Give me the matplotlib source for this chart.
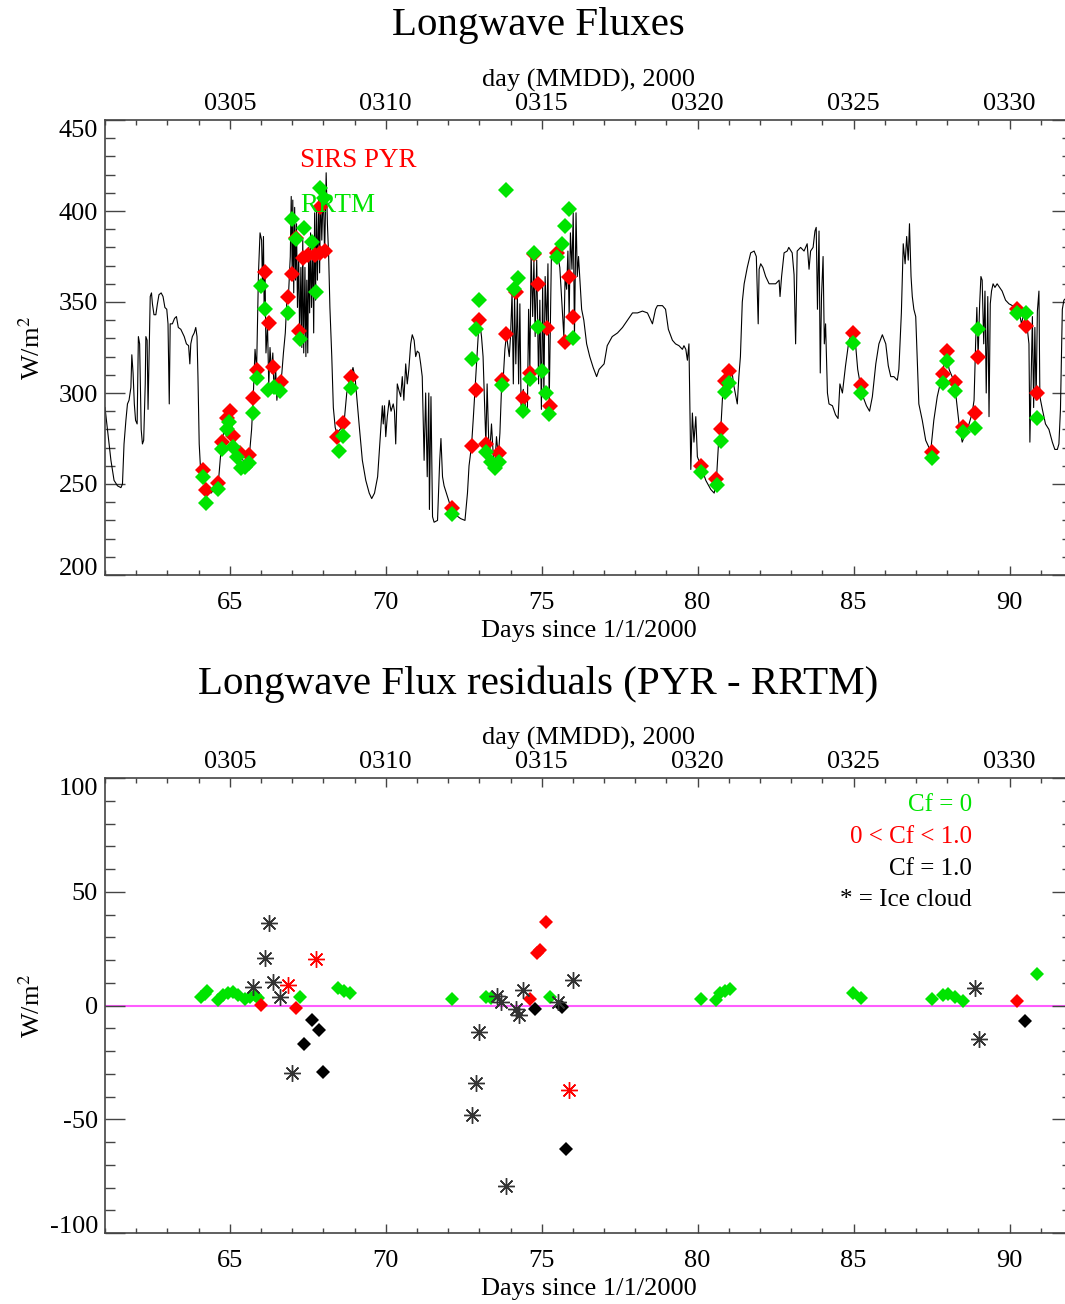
import numpy as np
import matplotlib
matplotlib.use("Agg")
import matplotlib.pyplot as plt
from matplotlib.ticker import MultipleLocator

plt.rcParams['font.family'] = ['Liberation Serif', 'DejaVu Serif']
plt.rcParams['mathtext.fontset'] = 'stix'
plt.rcParams['axes.unicode_minus'] = False

# continuous SIRS PYR longwave flux
pyr_day = [
    61.00, 61.08, 61.19, 61.29, 61.40, 61.51, 61.56, 61.61, 61.67, 61.72, 61.77, 61.83, 61.86, 61.90,
    61.94, 61.98, 62.03, 62.07, 62.11, 62.16, 62.20, 62.24, 62.29, 62.31, 62.35, 62.38, 62.42, 62.45,
    62.49, 62.52, 62.57, 62.63, 62.68, 62.73, 62.80, 62.86, 62.92, 62.98, 63.02, 63.06, 63.09, 63.16,
    63.23, 63.29, 63.35, 63.43, 63.54, 63.61, 63.68, 63.72, 63.75, 63.80, 63.86, 63.91, 63.95, 63.98,
    64.02, 64.06, 64.13, 64.24, 64.40, 64.55, 64.63, 64.74, 64.90, 65.01, 65.11, 65.22, 65.33, 65.45,
    65.55, 65.63, 65.70, 65.75, 65.81, 65.86, 65.92, 65.97, 66.02, 66.05, 66.08, 66.10, 66.13, 66.16,
    66.21, 66.25, 66.29, 66.34, 66.38, 66.42, 66.47, 66.51, 66.56, 66.62, 66.67, 66.72, 66.78, 66.83,
    66.88, 66.94, 66.97, 67.00, 67.02, 67.05, 67.08, 67.11, 67.14, 67.17, 67.21, 67.24, 67.28, 67.31,
    67.34, 67.37, 67.41, 67.44, 67.47, 67.50, 67.53, 67.56, 67.59, 67.62, 67.66, 67.69, 67.72, 67.75,
    67.78, 67.81, 67.85, 67.88, 67.91, 67.95, 68.00, 68.04, 68.09, 68.13, 68.17, 68.21, 68.27, 68.32,
    68.38, 68.43, 68.48, 68.59, 68.66, 68.75, 68.84, 68.95, 69.02, 69.15, 69.25, 69.36, 69.47, 69.55,
    69.64, 69.74, 69.81, 69.89, 69.92, 69.96, 70.00, 70.05, 70.11, 70.17, 70.24, 70.28, 70.32, 70.37,
    70.43, 70.48, 70.53, 70.58, 70.64, 70.69, 70.74, 70.80, 70.85, 70.91, 70.96, 71.01, 71.07, 71.12,
    71.17, 71.23, 71.28, 71.33, 71.38, 71.40, 71.45, 71.50, 71.55, 71.66, 71.73, 71.77, 71.82, 71.87,
    71.98, 72.09, 72.24, 72.40, 72.54, 72.62, 72.67, 72.75, 72.81, 72.86, 72.91, 72.97, 73.02, 73.07,
    73.12, 73.18, 73.21, 73.25, 73.30, 73.34, 73.39, 73.45, 73.50, 73.55, 73.61, 73.66, 73.71, 73.77,
    73.82, 73.87, 73.96, 74.00, 74.05, 74.09, 74.13, 74.17, 74.22, 74.26, 74.30, 74.34, 74.41, 74.49,
    74.54, 74.58, 74.62, 74.66, 74.71, 74.75, 74.79, 74.84, 74.90, 74.94, 74.99, 75.03, 75.07, 75.11,
    75.16, 75.20, 75.24, 75.31, 75.37, 75.42, 75.50, 75.58, 75.71, 75.75, 75.80, 75.84, 75.88, 75.92,
    75.97, 76.01, 76.05, 76.10, 76.14, 76.18, 76.23, 76.28, 76.35, 76.44, 76.54, 76.65, 76.76, 76.84,
    77.00, 77.10, 77.26, 77.43, 77.59, 77.75, 77.91, 78.07, 78.23, 78.39, 78.55, 78.65, 78.71, 78.87,
    78.97, 79.06, 79.19, 79.29, 79.40, 79.51, 79.56, 79.62, 79.67, 79.72, 79.78, 79.83, 79.88, 79.94,
    79.99, 80.10, 80.26, 80.42, 80.53, 80.60, 80.67, 80.74, 80.81, 80.90, 81.00, 81.09, 81.16, 81.27,
    81.32, 81.37, 81.43, 81.49, 81.59, 81.70, 81.81, 81.88, 81.94, 81.97, 82.02, 82.09, 82.18, 82.29,
    82.39, 82.50, 82.61, 82.64, 82.69, 82.77, 82.87, 82.92, 83.03, 83.09, 83.14, 83.19, 83.30, 83.41,
    83.51, 83.57, 83.62, 83.70, 83.76, 83.80, 83.84, 83.89, 83.93, 83.97, 84.02, 84.06, 84.10, 84.16,
    84.21, 84.32, 84.42, 84.50, 84.56, 84.64, 84.74, 84.85, 84.96, 85.06, 85.13, 85.22, 85.30, 85.41,
    85.51, 85.60, 85.71, 85.81, 85.92, 86.03, 86.11, 86.19, 86.29, 86.40, 86.45, 86.53, 86.59, 86.65,
    86.70, 86.75, 86.79, 86.84, 86.88, 86.93, 86.99, 87.09, 87.20, 87.31, 87.47, 87.57, 87.68, 87.84,
    87.97, 88.06, 88.23, 88.38, 88.48, 88.59, 88.70, 88.80, 88.86, 88.91, 88.95, 88.99, 89.04, 89.08,
    89.12, 89.17, 89.21, 89.25, 89.30, 89.34, 89.38, 89.42, 89.47, 89.53, 89.60, 89.76, 89.87, 89.98,
    90.09, 90.21, 90.30, 90.38, 90.46, 90.51, 90.57, 90.62, 90.65, 90.69, 90.73, 90.77, 90.81, 90.85,
    90.89, 90.94, 90.97, 91.05, 91.15, 91.26, 91.37, 91.45, 91.53, 91.58, 91.63, 91.69, 91.74, 91.80,
]
pyr_flux = [
    292, 280, 263, 252, 249, 248, 250, 272, 285, 294, 296, 303, 321, 311,
    294, 285, 283, 331, 327, 280, 272, 274, 305, 331, 329, 291, 327, 353,
    355, 349, 343, 343, 349, 354, 355, 353, 347, 346, 338, 294, 338, 338,
    341, 342, 336, 335, 331, 327, 326, 316, 327, 331, 333, 336, 331, 309,
    272, 259, 258, 247, 245, 248, 250, 273, 286, 290, 276, 270, 267, 262,
    258, 266, 280, 297, 324, 313, 366, 388, 384, 358, 386, 349, 367, 322,
    337, 304, 325, 311, 322, 300, 314, 296, 307, 305, 311, 322, 333, 351,
    353, 375, 408, 365, 406, 355, 402, 362, 393, 347, 375, 329, 369, 325,
    384, 322, 369, 320, 362, 322, 380, 344, 388, 347, 380, 333, 399, 351,
    402, 362, 406, 366, 411, 384, 413, 375, 421, 393, 375, 347, 320, 292,
    281, 278, 279, 281, 283, 300, 307, 314, 308, 282, 263, 252, 245, 242,
    245, 254, 272, 293, 283, 293, 276, 287, 296, 290, 294, 290, 272, 305,
    301, 298, 309, 296, 316, 305, 313, 327, 332, 329, 320, 323, 322, 316,
    309, 263, 300, 254, 300, 236, 298, 232, 229, 230, 263, 275, 254, 249,
    243, 237, 233, 231, 230, 245, 260, 271, 287, 302, 316, 333, 338, 331,
    320, 287, 272, 305, 274, 269, 283, 265, 261, 276, 265, 278, 302, 309,
    324, 332, 320, 331, 355, 305, 353, 316, 353, 305, 349, 291, 302, 291,
    289, 346, 313, 377, 342, 373, 331, 373, 305, 351, 291, 360, 298, 364,
    335, 371, 294, 375, 377, 378, 377, 369, 331, 364, 357, 378, 342, 388,
    368, 399, 331, 399, 364, 375, 360, 346, 340, 327, 320, 314, 309, 313,
    316, 326, 331, 333, 336, 340, 344, 344, 345, 344, 338, 346, 348, 348,
    346, 335, 329, 327, 326, 324, 326, 324, 318, 327, 258, 289, 273, 287,
    265, 260, 252, 247, 245, 252, 273, 280, 302, 311, 311, 313, 304, 294,
    309, 320, 350, 360, 369, 377, 378, 375, 338, 368, 371, 369, 364, 360,
    360, 360, 362, 353, 364, 377, 378, 380, 377, 365, 327, 378, 380, 378,
    382, 368, 378, 380, 389, 391, 346, 389, 311, 353, 375, 327, 338, 300,
    294, 293, 288, 286, 305, 300, 315, 329, 333, 327, 313, 304, 298, 293,
    290, 298, 316, 327, 332, 327, 315, 309, 309, 307, 313, 344, 382, 371,
    386, 373, 393, 364, 353, 346, 342, 294, 285, 274, 268, 285, 298, 310,
    323, 313, 306, 283, 273, 278, 283, 289, 296, 327, 347, 320, 349, 364,
    362, 327, 356, 300, 353, 287, 349, 356, 360, 358, 360, 356, 351, 349,
    348, 346, 345, 338, 344, 338, 335, 327, 273, 309, 342, 292, 336, 296,
    345, 356, 298, 291, 283, 280, 273, 269, 269, 272, 291, 346, 351, 352,
]

# SIRS PYR values at the comparison times (red diamonds)
pyr_pt_day = [64.13, 64.24, 64.63, 64.74, 64.90, 65.01, 65.11, 65.33, 65.63, 65.75, 65.86, 66.13,
              66.26, 66.37, 66.63, 66.88, 67.00, 67.12, 67.23, 67.36, 67.52, 67.73, 67.89, 67.90,
              68.05, 68.45, 68.64, 68.90, 72.11, 72.75, 72.88, 73.00, 73.23, 73.64, 73.74, 73.87,
              74.17, 74.39, 74.64, 74.75, 74.89, 75.16, 75.26, 75.50, 75.74, 75.88, 76.01, 80.12,
              80.60, 80.74, 80.87, 81.01, 84.98, 85.25, 87.50, 87.87, 88.00, 88.25, 88.49, 88.88,
              89.00, 90.24, 90.52, 90.89]
pyr_pt_flux = [257.7, 246.7, 250.4, 273.2, 286.0, 290.3, 276.4, 266.9, 265.9, 297.1, 312.6, 366.6,
               338.3, 314.4, 305.9, 352.9, 365.4, 385.0, 334.1, 374.2, 375.8, 375.8, 402.4, 376.9,
               378.2, 276.0, 283.3, 308.6, 236.6, 270.9, 301.6, 340.1, 272.0, 266.9, 307.1, 332.4,
               355.7, 297.1, 311.2, 376.4, 359.9, 335.7, 292.8, 377.1, 328.2, 363.9, 341.6, 259.9,
               252.6, 280.0, 306.8, 312.2, 333.1, 304.4, 267.7, 310.4, 323.2, 306.2, 281.1, 289.2,
               320.0, 346.0, 336.8, 299.8]

# RRTM computed fluxes (green diamonds)
rrtm_day = [64.13, 64.24, 64.63, 64.74, 64.90, 64.98, 65.11, 65.22, 65.35, 65.49, 65.63, 65.73,
            65.86, 66.00, 66.13, 66.21, 66.42, 66.61, 66.88, 67.00, 67.12, 67.25, 67.38, 67.62,
            67.76, 67.89, 68.02, 68.51, 68.64, 68.88, 72.11, 72.75, 72.88, 73.00, 73.23, 73.39,
            73.50, 73.64, 73.74, 73.87, 74.11, 74.25, 74.39, 74.62, 74.76, 74.89, 75.00, 75.14,
            75.24, 75.50, 75.64, 75.74, 75.88, 76.01, 80.12, 80.62, 80.74, 80.87, 81.01, 84.98,
            85.25, 87.50, 87.87, 88.00, 88.25, 88.49, 88.88, 89.00, 90.24, 90.52, 90.89]
rrtm_flux = [253.7, 239.7, 247.1, 269.0, 280.0, 284.2, 270.1, 265.0, 258.6, 259.5, 261.7, 288.8,
             308.1, 359.0, 346.0, 301.6, 303.5, 301.3, 344.1, 395.4, 384.8, 329.5, 390.5, 383.1,
             355.3, 412.8, 407.0, 268.3, 276.4, 302.6, 233.5, 318.5, 335.2, 351.1, 267.8, 262.3,
             258.6, 262.3, 304.4, 411.5, 357.0, 363.0, 290.3, 307.5, 377.1, 336.4, 312.2, 299.8,
             288.4, 374.9, 381.9, 391.8, 400.9, 330.0, 256.7, 249.4, 273.8, 300.7, 305.3, 327.3,
             300.2, 264.5, 305.3, 317.7, 301.3, 278.7, 280.6, 335.0, 344.1, 344.1, 286.0]

# residuals PYR - RRTM, split by cloud fraction
clear_day = [64.07, 64.21, 64.26, 64.63, 64.79, 64.95, 65.11, 65.27, 65.49, 65.65, 65.81, 65.91,
             67.25, 68.48, 68.66, 68.87, 72.13, 73.23, 73.39, 75.26, 80.12, 80.60, 80.71, 80.87,
             81.03, 84.98, 85.25, 87.50, 87.87, 88.03, 88.24, 88.51, 90.88]
clear_res = [3.9, 5.0, 6.5, 2.4, 4.6, 5.3, 6.1, 4.6, 2.7, 3.6, 4.6, 3.2,
             3.9, 7.5, 6.5, 5.3, 2.7, 3.6, 3.2, 3.6, 2.7, 2.4, 5.3, 6.5,
             7.1, 5.3, 3.4, 2.7, 4.6, 5.0, 3.9, 2.1, 13.8]
partly_day = [66.00, 67.12, 74.64, 74.84, 74.94, 75.13, 90.25]
partly_res = [0.2, -1.0, 2.7, 22.9, 24.4, 36.9, 2.1]
overcast_day = [67.38, 67.62, 67.87, 68.00, 74.78, 75.64, 75.78, 90.50]
overcast_res = [-16.9, -6.4, -10.8, -29.1, -1.7, -0.5, -63.2, -6.8]
ice_overcast_day = [65.75, 66.13, 66.26, 66.37, 66.61, 67.00, 72.75, 72.88, 73.00, 73.57,
                    73.71, 73.87, 74.17, 74.28, 74.39, 75.53, 76.01, 88.88, 89.01]
ice_overcast_res = [8.3, 20.7, 36.4, 10.5, 3.9, -29.8, -48.1, -33.9, -11.5, 4.2,
                    1.7, -79.4, -1.7, -4.2, 6.8, 1.7, 11.2, 7.8, -14.9]
ice_partly_day = [66.88, 67.75, 75.88]
ice_partly_res = [9.0, 20.4, -37.2]

mmdd_days = [65, 70, 75, 80, 85, 90]
mmdd_labels = ['0305', '0310', '0315', '0320', '0325', '0330']

GREEN = '#00e400'
RED = '#ff0000'
FS = 19
ASTER = (8, 2, 0)


def style_axes(ax, yticks, yminor):
    ax.set_xlim(61, 92)
    ax.set_yticks(yticks)
    ax.set_ylim(yticks[0], yticks[-1])
    ax.xaxis.set_major_locator(MultipleLocator(5))
    ax.xaxis.set_minor_locator(MultipleLocator(1))
    ax.yaxis.set_minor_locator(MultipleLocator(yminor))
    ax.tick_params(axis='x', which='major', direction='in', length=6.5, width=1,
                   labelsize=FS, pad=12, color='#444444')
    ax.tick_params(axis='x', which='minor', direction='in', length=3.5, width=1, color='#444444')
    ax.tick_params(axis='y', which='major', direction='in', length=14.5, width=1, right=True,
                   labelsize=FS, pad=5, color='#444444')
    ax.tick_params(axis='y', which='minor', direction='in', length=7.2, width=1, right=True,
                   color='#444444')
    for s in ax.spines.values():
        s.set_color('#444444')
        s.set_linewidth(1.2)
    ticks = ax.yaxis.get_major_ticks()
    ticks[0].label1.set_verticalalignment('baseline')
    ticks[-1].label1.set_verticalalignment('top')
    ax.set_xlabel('Days since 1/1/2000', fontsize=FS)
    ax.xaxis.set_label_coords(0.5, -0.1)
    ax.set_ylabel('W/m$^2$', fontsize=FS)
    ax.yaxis.set_label_coords(-0.062, 0.5)

    top = ax.twiny()
    top.set_xlim(ax.get_xlim())
    top.set_xticks(mmdd_days, labels=mmdd_labels)
    top.xaxis.set_minor_locator(MultipleLocator(1))
    top.tick_params(axis='x', which='major', direction='in', length=6.5, width=1,
                    labelsize=FS, pad=3.5, color='#444444')
    top.tick_params(axis='x', which='minor', direction='in', length=3.5, width=1, color='#444444')
    for s in top.spines.values():
        s.set_visible(False)
    top.set_xlabel('day (MMDD), 2000', fontsize=FS)
    top.xaxis.set_label_coords(0.5, 1.074)
    return top


fig = plt.figure(figsize=(10.65, 13.04), dpi=100)
ax1 = fig.add_axes([105 / 1065, 729 / 1304, 967 / 1065, 455 / 1304])
ax2 = fig.add_axes([105 / 1065, 71 / 1304, 967 / 1065, 455 / 1304])

# top panel: fluxes
ax1.plot(pyr_day, pyr_flux, color='black', lw=0.8)
ax1.plot(pyr_pt_day, pyr_pt_flux, ls='none', marker='D', ms=7.8, mew=0, color=RED)
ax1.plot(rrtm_day, rrtm_flux, ls='none', marker='D', ms=7.8, mew=0, color=GREEN)
ax1.text(0.2017, 0.912, 'SIRS PYR', color=RED, fontsize=19.5, va='center', transform=ax1.transAxes)
ax1.text(0.2017, 0.811, 'RRTM', color=GREEN, fontsize=19.5, va='center', transform=ax1.transAxes)
style_axes(ax1, [200, 250, 300, 350, 400, 450], 10)

# bottom panel: residuals
ax2.axhline(0, color='#ff5cff', lw=1.5, zorder=1)
ax2.plot(clear_day, clear_res, ls='none', marker='D', ms=7, mew=0, color=GREEN)
ax2.plot(partly_day, partly_res, ls='none', marker='D', ms=7, mew=0, color=RED)
ax2.plot(overcast_day, overcast_res, ls='none', marker='D', ms=7, mew=0, color='black')
ax2.plot(ice_overcast_day, ice_overcast_res, ls='none', marker=ASTER, ms=12, mew=1,
         color='#333333')
ax2.plot(ice_partly_day, ice_partly_res, ls='none', marker=ASTER, ms=12, mew=1, color=RED)
legend_rows = [('Cf = 0', GREEN), ('0 < Cf < 1.0', RED), ('Cf = 1.0', 'black'),
               ('* = Ice cloud', 'black')]
for i, (txt, col) in enumerate(legend_rows):
    ax2.text(0.8966, 0.940 - i * 0.0697, txt, color=col, fontsize=18, ha='right', va='center',
             transform=ax2.transAxes)
style_axes(ax2, [-100, -50, 0, 50, 100], 10)

fig.text(538 / 1065, 1 - 26 / 1304, 'Longwave Fluxes', ha='center', va='center', fontsize=29.5)
fig.text(538 / 1065, 1 - 684 / 1304, 'Longwave Flux residuals (PYR - RRTM)', ha='center',
         va='center', fontsize=29.5)

fig.savefig('out.png', dpi=100)
